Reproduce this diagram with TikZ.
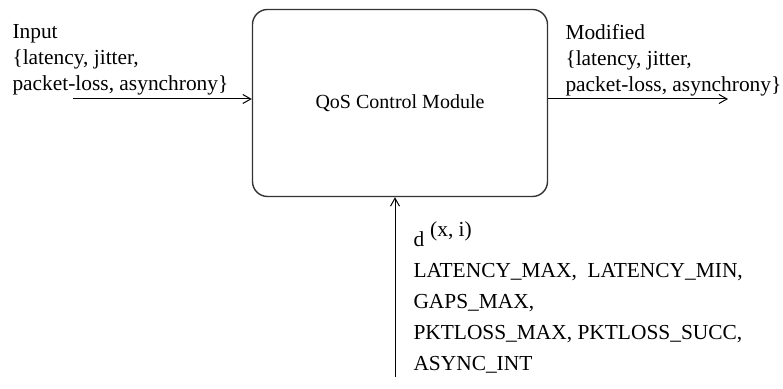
\documentclass[tikz,border=0pt]{standalone}
\usepackage{fontspec}
\setmainfont{Liberation Serif}
\usetikzlibrary{arrows.meta, positioning}

\tikzset{
  module/.style={draw=black!80, line width=0.7pt, rounded corners=7.5pt,
    minimum width=147.5pt, minimum height=93.5pt, inner sep=0pt,
    font=\fontsize{10}{12}\selectfont},
  label/.style={anchor=north west, inner sep=0pt, align=left},
}

\begin{document}
\begin{tikzpicture}[x=0.5pt, y=-0.5pt, line width=0.5pt,
    >={Straight Barb[length=4pt, width=4.5pt]},
    font=\fontsize{10.7}{13}\selectfont]

  \useasboundingbox (0,0) rectangle (783,389);

  % Module
  \node[module] (qos) at (400,103) {QoS Control Module};

  % Input and output sets
  \node[label] (inset) at (12,24)
    {Input\\\{latency, jitter,\\packet-loss, asynchrony\}};
  \node[label] (outset) at (565,24)
    {Modified\\\{latency, jitter,\\packet-loss, asynchrony\}};

  % Arrows
  \coordinate (in) at (73,99);
  \coordinate (out) at (728,99);
  \coordinate (pin) at (395,377);
  \draw[->] (in) -- (in -| qos.west);
  \draw[->] (out -| qos.east) -- (out);
  \draw[->] (pin) -- (pin |- qos.south);

  % Parameters
  \node[label, font=\fontsize{10.7}{15.5}\selectfont] (params) at (413,221)
    {d\hspace{3pt}\raisebox{5pt}{(x, i)}\\
     LATENCY\_MAX,\ \ LATENCY\_MIN,\\
     GAPS\_MAX,\\
     PKTLOSS\_MAX, PKTLOSS\_SUCC,\\
     ASYNC\_INT};

\end{tikzpicture}
\end{document}
